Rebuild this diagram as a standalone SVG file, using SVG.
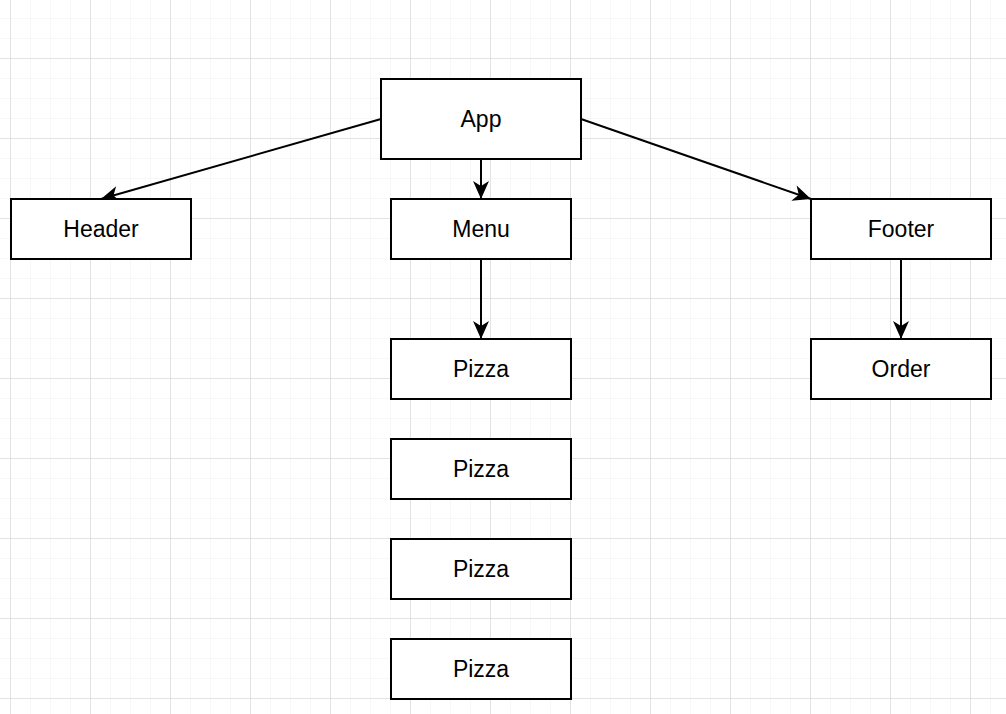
<svg xmlns="http://www.w3.org/2000/svg" width="1006" height="714" viewBox="0 0 1006 714">
  <defs>
    <pattern id="minor" x="10" y="18" width="20" height="20" patternUnits="userSpaceOnUse">
      <path d="M0 0 H20 M0 0 V20" fill="none" stroke="#efefef" stroke-width="1"/>
    </pattern>
    <pattern id="major" x="10" y="58" width="80" height="80" patternUnits="userSpaceOnUse">
      <path d="M0 0 H80 M0 0 V80" fill="none" stroke="#d0d0d0" stroke-width="1"/>
    </pattern>
    <marker id="arrow" markerUnits="userSpaceOnUse" markerWidth="20" markerHeight="20" viewBox="-19 -10 20 20" refX="0" refY="0" orient="auto">
      <path d="M0 0 L-18 -8 L-13 0 L-18 8 Z" fill="#000"/>
    </marker>
    <style>
      .node rect { fill: #fff; stroke: #000; stroke-width: 2; }
      .node text { font-family: "Liberation Sans", Arial, sans-serif; font-size: 23px; fill: #000; text-anchor: middle; }
      .edge { fill: none; stroke: #000; stroke-width: 2; marker-end: url(#arrow); }
    </style>
  </defs>
  <rect width="1006" height="714" fill="#fff"/>
  <rect width="1006" height="714" fill="url(#minor)"/>
  <rect width="1006" height="714" fill="url(#major)"/>

  <g id="connectors">
    <line class="edge" x1="381" y1="119" x2="101" y2="199"/>
    <line class="edge" x1="481" y1="159" x2="481" y2="199"/>
    <line class="edge" x1="581" y1="119" x2="811" y2="199"/>
    <line class="edge" x1="481" y1="259" x2="481" y2="339"/>
    <line class="edge" x1="901" y1="259" x2="901" y2="339"/>
  </g>

  <g id="app" class="node"><rect x="381" y="79" width="200" height="80"/><text x="481" y="127">App</text></g>
  <g id="header" class="node"><rect x="11" y="199" width="180" height="60"/><text x="101" y="237">Header</text></g>
  <g id="menu" class="node"><rect x="391" y="199" width="180" height="60"/><text x="481" y="237">Menu</text></g>
  <g id="footer" class="node"><rect x="811" y="199" width="180" height="60"/><text x="901" y="237">Footer</text></g>
  <g id="pizza1" class="node"><rect x="391" y="339" width="180" height="60"/><text x="481" y="377">Pizza</text></g>
  <g id="order" class="node"><rect x="811" y="339" width="180" height="60"/><text x="901" y="377">Order</text></g>
  <g id="pizza2" class="node"><rect x="391" y="439" width="180" height="60"/><text x="481" y="477">Pizza</text></g>
  <g id="pizza3" class="node"><rect x="391" y="539" width="180" height="60"/><text x="481" y="577">Pizza</text></g>
  <g id="pizza4" class="node"><rect x="391" y="639" width="180" height="60"/><text x="481" y="677">Pizza</text></g>
</svg>
